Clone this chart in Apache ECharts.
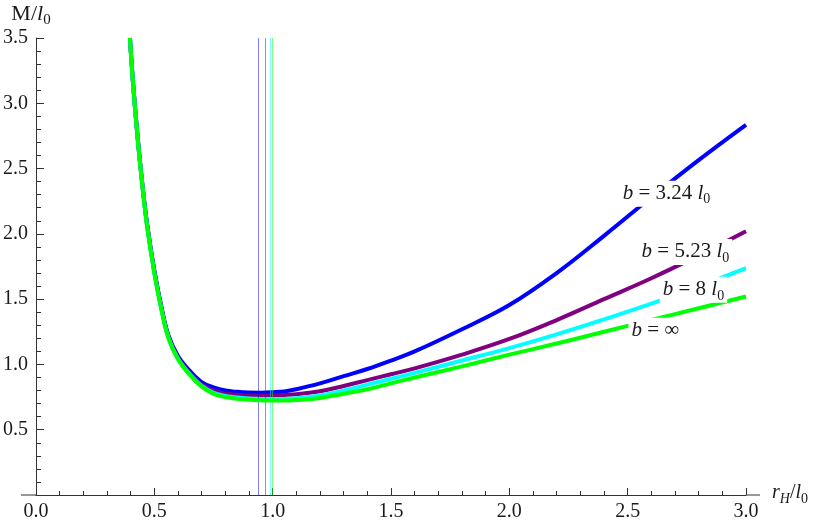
<!DOCTYPE html>
<html><head><meta charset="utf-8">
<script src="https://cdn.jsdelivr.net/npm/echarts@6/dist/echarts.min.js"></script>
<style>html,body{margin:0;padding:0;background:#fff}#c{width:828px;height:523px}</style>
</head><body><div id="c"></div>
<script>
// horizon radius r_H / l0
const rH = [0.397, 0.41, 0.43, 0.45, 0.47, 0.5, 0.53, 0.56, 0.6, 0.65, 0.7, 0.75, 0.8, 0.85, 0.9, 0.95, 1.0, 1.05, 1.1, 1.2, 1.3, 1.4, 1.5, 1.6, 1.8, 2.0, 2.2, 2.4, 2.6, 2.8, 3.0];
// M / l0 for each b
const mB324 = [3.50, 3.16, 2.73, 2.37, 2.07, 1.72, 1.44, 1.22, 1.065, 0.95, 0.865, 0.825, 0.80, 0.79, 0.785, 0.784, 0.787, 0.793, 0.81, 0.855, 0.91, 0.965, 1.03, 1.10, 1.27, 1.455, 1.70, 1.985, 2.28, 2.565, 2.835];
const mB523 = [3.50, 3.155, 2.725, 2.365, 2.06, 1.71, 1.43, 1.21, 1.05, 0.935, 0.848, 0.80, 0.777, 0.767, 0.762, 0.761, 0.762, 0.766, 0.772, 0.795, 0.835, 0.88, 0.925, 0.97, 1.075, 1.195, 1.34, 1.50, 1.66, 1.835, 2.02];
const mB8 = [3.50, 3.15, 2.72, 2.36, 2.052, 1.70, 1.422, 1.203, 1.043, 0.925, 0.836, 0.783, 0.759, 0.746, 0.739, 0.736, 0.735, 0.736, 0.741, 0.762, 0.80, 0.845, 0.89, 0.935, 1.03, 1.125, 1.23, 1.345, 1.465, 1.597, 1.737];
const mBinf = [3.50, 3.15, 2.72, 2.36, 2.05, 1.70, 1.42, 1.20, 1.04, 0.92, 0.83, 0.775, 0.750, 0.737, 0.729, 0.725, 0.723, 0.723, 0.727, 0.743, 0.776, 0.81, 0.855, 0.90, 0.985, 1.075, 1.16, 1.25, 1.34, 1.43, 1.52];
// vertical lines (position of minima)
const minLines = [0.945, 0.971, 0.99, 1.0];
const seriesNames = ['b = 3.24 l0', 'b = 5.23 l0', 'b = 8 l0', 'b = ∞'];
const seriesData = [mB324, mB523, mB8, mBinf];
const colors = ['#0000ff', '#800080', '#00ffff', '#00ff00'];
// curve labels
const labelRich = ['{i|b} = 3.24 {i|l}{s|0}', '{i|b} = 5.23 {i|l}{s|0}', '{i|b} = 8 {i|l}{s|0}', '{i|b} = ∞'];
const labelX = [2.664, 2.744, 2.778, 2.617];
const labelY = [2.307, 1.862, 1.571, 1.257];

const FONT = '"Liberation Serif", "DejaVu Serif", serif';
const TXT = '#1a1a1a';
const AX = '#333';
const FS = 20;
const rich = {
  i: { fontFamily: FONT, fontSize: FS, fontStyle: 'italic', color: TXT, lineHeight: 26 },
  n: { fontFamily: FONT, fontSize: FS, color: TXT, lineHeight: 26 },
  s: { fontFamily: FONT, fontSize: 14, color: TXT, lineHeight: 14, verticalAlign: 'bottom' },
  si: { fontFamily: FONT, fontSize: 14, fontStyle: 'italic', color: TXT, lineHeight: 14, verticalAlign: 'bottom' }
};
const richY = {
  i: { fontFamily: FONT, fontSize: 22, fontStyle: 'italic', color: TXT, lineHeight: 28 },
  n: { fontFamily: FONT, fontSize: 22, color: TXT, lineHeight: 28 },
  s: { fontFamily: FONT, fontSize: 15, color: TXT, lineHeight: 15, verticalAlign: 'bottom' }
};
const richL = {
  i: { fontFamily: FONT, fontSize: 21, fontStyle: 'italic', color: TXT, lineHeight: 26 },
  s: { fontFamily: FONT, fontSize: 14, color: TXT, lineHeight: 14, verticalAlign: 'bottom' }
};

const chart = echarts.init(document.getElementById('c'), null, { renderer: 'canvas' });
const series = seriesData.map((vals, k) => ({
  name: seriesNames[k],
  type: 'line',
  data: rH.map((x, j) => [x, vals[j]]),
  showSymbol: false,
  smooth: 0.4,
  lineStyle: { color: colors[k], width: 4 },
  itemStyle: { color: colors[k] },
  z: 2 + k,
  markLine: {
    silent: true,
    symbol: ['none', 'none'],
    label: { show: false },
    lineStyle: { color: colors[k], width: 1, type: 'solid', opacity: 0.5 },
    data: [{ xAxis: minLines[k] }]
  }
}));
series.push({
  type: 'scatter',
  data: labelX.map((x, i) => [x, labelY[i], i]),
  symbolSize: 1,
  itemStyle: { color: '#ffffff', opacity: 1 },
  zlevel: 1,
  z: 50,
  silent: true,
  emphasis: { disabled: true },
  label: {
    show: true,
    position: 'inside',
    formatter: p => labelRich[p.data[2]],
    backgroundColor: '#ffffff',
    opacity: 1,
    padding: [0, 3],
    fontFamily: FONT,
    fontSize: 21,
    color: TXT,
    lineHeight: 26,
    rich: richL
  }
});

chart.setOption({
  animation: false,
  backgroundColor: '#fff',
  grid: { left: 36, right: 82, top: 38, bottom: 28, containLabel: false, outerBoundsMode: 'none' },
  xAxis: {
    type: 'value', min: 0, max: 3, interval: 0.5,
    axisLine: { onZero: false, lineStyle: { color: AX, width: 1 } },
    axisTick: { inside: true, length: 7, lineStyle: { color: AX } },
    minorTick: { show: true, splitNumber: 5, length: 4, lineStyle: { color: AX } },
    axisLabel: { formatter: v => v.toFixed(1), fontFamily: FONT, fontSize: FS, color: TXT, margin: 7 },
    splitLine: { show: false },
    minorSplitLine: { show: false },
    name: '{i|r}{si|H}{n|/}{i|l}{s|0}',
    nameLocation: 'end', nameGap: 26,
    nameTextStyle: { rich: rich, fontFamily: FONT, fontSize: FS, color: TXT, padding: [0, 0, 4, 0] }
  },
  yAxis: {
    type: 'value', min: 0, max: 3.5, interval: 0.5,
    axisLine: { lineStyle: { color: AX, width: 1 } },
    axisTick: { inside: true, length: 8, lineStyle: { color: AX } },
    minorTick: { show: true, splitNumber: 5, length: 5, lineStyle: { color: AX } },
    axisLabel: { formatter: v => v === 0 ? '' : v.toFixed(1), fontFamily: FONT, fontSize: FS, color: TXT, margin: 8 },
    splitLine: { show: false },
    minorSplitLine: { show: false },
    name: '{n|M/}{i|l}{s|0}',
    nameLocation: 'end', nameGap: 10,
    nameTextStyle: { rich: richY, fontFamily: FONT, fontSize: 22, color: TXT, align: 'center', padding: [0, 10, 0, 0] }
  },
  series: series
});

// extend the x axis line a little past both ends, as in the original figure
const p0 = chart.convertToPixel({ gridIndex: 0 }, [0, 0]);
const p3 = chart.convertToPixel({ gridIndex: 0 }, [3, 0]);
chart.setOption({
  graphic: [
    { type: 'line', silent: true, z: 5, shape: { x1: p0[0] - 15, y1: p0[1], x2: p0[0], y2: p0[1] }, style: { stroke: AX, lineWidth: 1 } },
    { type: 'line', silent: true, z: 5, shape: { x1: p3[0], y1: p3[1], x2: p3[0] + 14, y2: p3[1] }, style: { stroke: AX, lineWidth: 1 } }
  ]
});
</script>
</body></html>
